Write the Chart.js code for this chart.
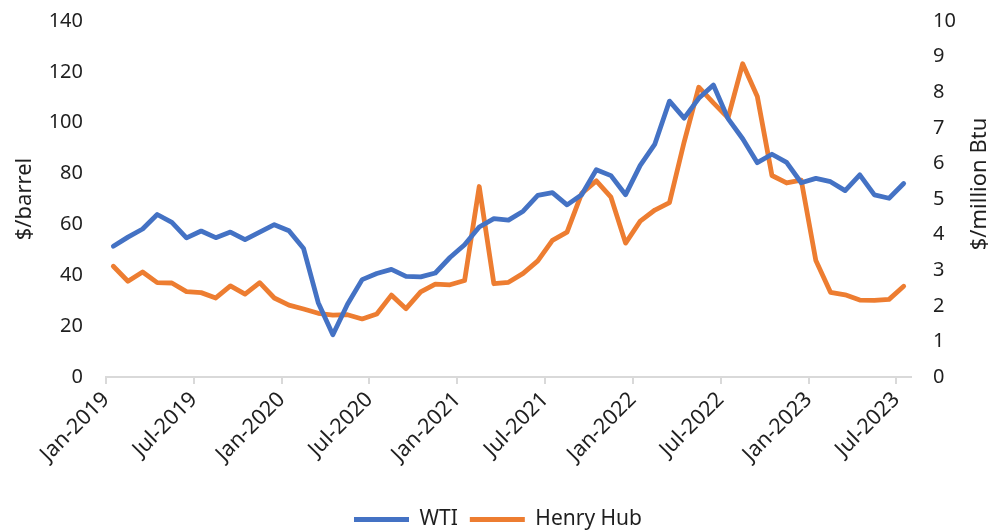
<!DOCTYPE html>
<html><head><meta charset="utf-8">
<style>html,body{margin:0;padding:0;background:#fff;} #c{display:block;}</style>
<script src="https://cdn.jsdelivr.net/npm/chart.js@4.4.0/dist/chart.umd.min.js"></script>
</head><body>
<canvas id="c" width="996" height="532"></canvas>
<script>
const months = [
  "Jan-2019","Feb-2019","Mar-2019","Apr-2019","May-2019","Jun-2019","Jul-2019","Aug-2019","Sep-2019","Oct-2019","Nov-2019","Dec-2019",
  "Jan-2020","Feb-2020","Mar-2020","Apr-2020","May-2020","Jun-2020","Jul-2020","Aug-2020","Sep-2020","Oct-2020","Nov-2020","Dec-2020",
  "Jan-2021","Feb-2021","Mar-2021","Apr-2021","May-2021","Jun-2021","Jul-2021","Aug-2021","Sep-2021","Oct-2021","Nov-2021","Dec-2021",
  "Jan-2022","Feb-2022","Mar-2022","Apr-2022","May-2022","Jun-2022","Jul-2022","Aug-2022","Sep-2022","Oct-2022","Nov-2022","Dec-2022",
  "Jan-2023","Feb-2023","Mar-2023","Apr-2023","May-2023","Jun-2023","Jul-2023"
];
const tickLabels = ["Jan-2019","Jul-2019","Jan-2020","Jul-2020","Jan-2021","Jul-2021","Jan-2022","Jul-2022","Jan-2023","Jul-2023"];
const wti = [
  51.4,55.0,58.2,63.9,60.8,54.7,57.4,54.8,57.0,54.0,57.0,59.9,
  57.5,50.5,29.2,16.6,28.6,38.3,40.7,42.3,39.6,39.4,40.9,47.0,
  52.0,59.0,62.3,61.7,65.2,71.4,72.5,67.7,71.7,81.5,79.2,71.7,
  83.2,91.6,108.5,101.8,109.6,114.8,101.6,93.7,84.3,87.6,84.4,76.4,
  78.1,76.8,73.3,79.5,71.6,70.3,76.1
];
const henryHub = [
  3.11,2.69,2.95,2.65,2.64,2.40,2.37,2.22,2.56,2.33,2.65,2.22,
  2.02,1.91,1.79,1.74,1.75,1.63,1.77,2.30,1.92,2.39,2.61,2.59,
  2.71,5.35,2.62,2.66,2.91,3.26,3.84,4.07,5.16,5.51,5.05,3.76,
  4.38,4.69,4.90,6.60,8.14,7.70,7.28,8.80,7.88,5.66,5.45,5.53,
  3.27,2.38,2.31,2.16,2.15,2.18,2.55
];
const leftAxisTitle = "$/barrel";
const rightAxisTitle = "$/million Btu";

const FONT = "'Noto Sans', sans-serif";
const TXT = "#1f1f1f";
const PAD_BOTTOM = -8;
const tickIdx = tickLabels.map(l => months.indexOf(l));

const rightTitlePlugin = {
  id: 'rightTitle',
  afterDraw(chart) {
    const c = chart.ctx, a = chart.chartArea;
    c.save();
    c.font = "22px " + FONT;
    c.fillStyle = TXT;
    c.textAlign = 'center';
    c.textBaseline = 'middle';
    c.translate(chart.width - 16, (a.top + a.bottom) / 2 - 15);
    c.rotate(-Math.PI / 2);
    c.fillText(rightAxisTitle, 0, 0);
    c.restore();
  }
};

function fixY(width) {
  return s => { s.width = width; s.paddingTop = 0; s.paddingBottom = 0; };
}

new Chart(document.getElementById('c'), {
  type: 'line',
  data: {
    datasets: [
      { label: 'WTI', data: wti.map((v, i) => ({ x: i + 0.5, y: v })), borderColor: '#4472C4', backgroundColor: '#4472C4',
        borderWidth: 4.8, pointRadius: 0, tension: 0, yAxisID: 'y', borderJoinStyle: 'round', borderCapStyle: 'round' },
      { label: 'Henry Hub', data: henryHub.map((v, i) => ({ x: i + 0.5, y: v })), borderColor: '#ED7D31', backgroundColor: '#ED7D31',
        borderWidth: 4.8, pointRadius: 0, tension: 0, yAxisID: 'y2', borderJoinStyle: 'round', borderCapStyle: 'round' }
    ]
  },
  options: {
    responsive: false, animation: false, devicePixelRatio: 1,
    layout: { padding: { top: 21, left: 0, right: 0, bottom: PAD_BOTTOM } },
    plugins: {
      tooltip: { enabled: false },
      legend: {
        position: 'bottom',
        labels: {
          boxWidth: 55, boxHeight: 5, padding: 12, color: TXT,
          font: { family: FONT, size: 21 },
          generateLabels: (chart) => Chart.defaults.plugins.legend.labels.generateLabels(chart)
            .map(l => Object.assign(l, { lineWidth: 0, fillStyle: l.strokeStyle }))
        }
      }
    },
    scales: {
      x: {
        type: 'linear', min: 0, max: months.length,
        afterBuildTicks: s => { s.ticks = tickIdx.map(v => ({ value: v })); },
        afterFit: s => { const lh = s.chart.legend ? s.chart.legend.height : 0; s.height = 532 - 377 - lh - PAD_BOTTOM; },
        ticks: { autoSkip: false, maxRotation: 45, minRotation: 45, padding: 3, color: TXT,
          font: { family: FONT, size: 21.5 }, callback: v => months[v] },
        grid: { display: true, drawOnChartArea: false, drawTicks: true, tickLength: 7, color: '#d9d9d9', lineWidth: 2 },
        border: { display: true, color: '#d9d9d9', width: 2 }
      },
      y: {
        position: 'left', min: 0, max: 140,
        afterFit: fixY(106),
        ticks: { stepSize: 20, padding: 23, color: TXT, font: { family: FONT, size: 20 } },
        grid: { display: false, drawTicks: false },
        border: { display: false },
        title: { display: true, text: leftAxisTitle, color: TXT, font: { family: FONT, size: 22 }, padding: { top: 12, bottom: 0 } }
      },
      y2: {
        position: 'right', min: 0, max: 10,
        afterFit: fixY(85),
        ticks: { stepSize: 1, padding: 22, color: TXT, font: { family: FONT, size: 20 } },
        grid: { display: false, drawTicks: false },
        border: { display: false }
      }
    }
  },
  plugins: [rightTitlePlugin]
});
</script>
</body></html>
